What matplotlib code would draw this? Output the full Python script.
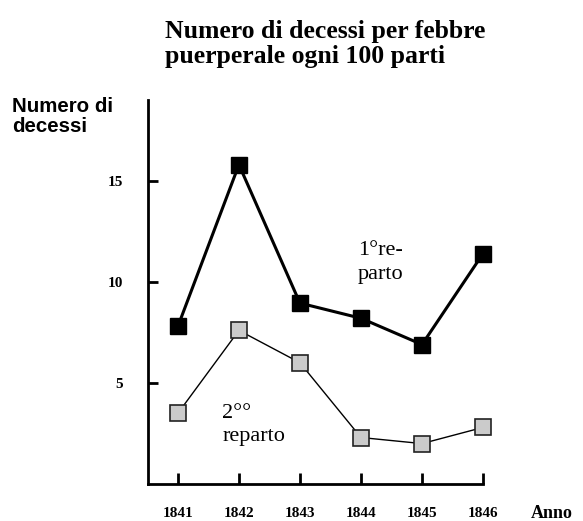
import numpy as np
import matplotlib
matplotlib.use('Agg')
from matplotlib import pyplot as plt

# Puerperal fever deaths per 100 births, Vienna clinics
anni = [1841, 1842, 1843, 1844, 1845, 1846]
reparto1 = [7.8, 15.8, 8.95, 8.2, 6.9, 11.4]
reparto2 = [3.5, 7.6, 6.0, 2.3, 2.0, 2.8]
yticks = [5, 10, 15]

serif = 'Liberation Serif'
sans = 'Liberation Sans'

W, H = 583, 521
fig = plt.figure(figsize=(W / 100, H / 100), dpi=100)
ax = fig.add_axes([148 / W, 1 - 484 / H, (505 - 148) / W, (484 - 100) / H])

#first clinic: heavy black line, black squares
ax.plot(anni, reparto1, color='black', lw=2.2, marker='s', ms=12,
        mfc='black', mec='black', zorder=3, clip_on=False)
#second clinic: thin line, grey squares
ax.plot(anni, reparto2, color='black', lw=1.0, marker='s', ms=11.5,
        mfc='#cbcbcb', mec='#222222', mew=1.2, zorder=3, clip_on=False)

ax.set_xlim(1840.51, 1846.36)
ax.set_ylim(0, 19)

for s in ['top', 'right']:
    ax.spines[s].set_visible(False)
ax.spines['left'].set_linewidth(2)
ax.spines['bottom'].set_linewidth(2)
ax.spines['bottom'].set_bounds(1840.51, 1846)

ax.set_xticks(anni)
ax.set_xticklabels([str(a) for a in anni], fontfamily=serif,
                   fontweight='bold', fontsize=11)
ax.set_yticks(yticks)
ax.set_yticklabels([str(v) for v in yticks], fontfamily=serif,
                   fontweight='bold', fontsize=11)
ax.tick_params(axis='x', direction='in', length=8, width=2, pad=16.5)
ax.tick_params(axis='y', direction='in', length=7, width=2, pad=18)

# series labels
ax.text(1843.95, 12.0, '1°re-\nparto', fontfamily=serif, fontsize=16,
        va='top', ha='left', linespacing=1.3)
ax.text(1841.73, 3.95, '2°°\nreparto', fontfamily=serif, fontsize=16,
        va='top', ha='left', linespacing=1.3)

fig.text(165 / W, 1 - 20 / H, 'Numero di decessi per febbre\npuerperale ogni 100 parti',
         fontfamily=serif, fontweight='bold', fontsize=18.5, va='top',
         ha='left', linespacing=1.12)
fig.text(12 / W, 1 - 97 / H, 'Numero di\ndecessi', fontfamily=sans,
         fontweight='bold', fontsize=14.8, va='top', ha='left', linespacing=1.05)
fig.text(531 / W, 1 - 518 / H, 'Anno', fontfamily=serif, fontweight='bold',
         fontsize=13, va='baseline', ha='left')

fig.savefig('out.png', dpi=100)
